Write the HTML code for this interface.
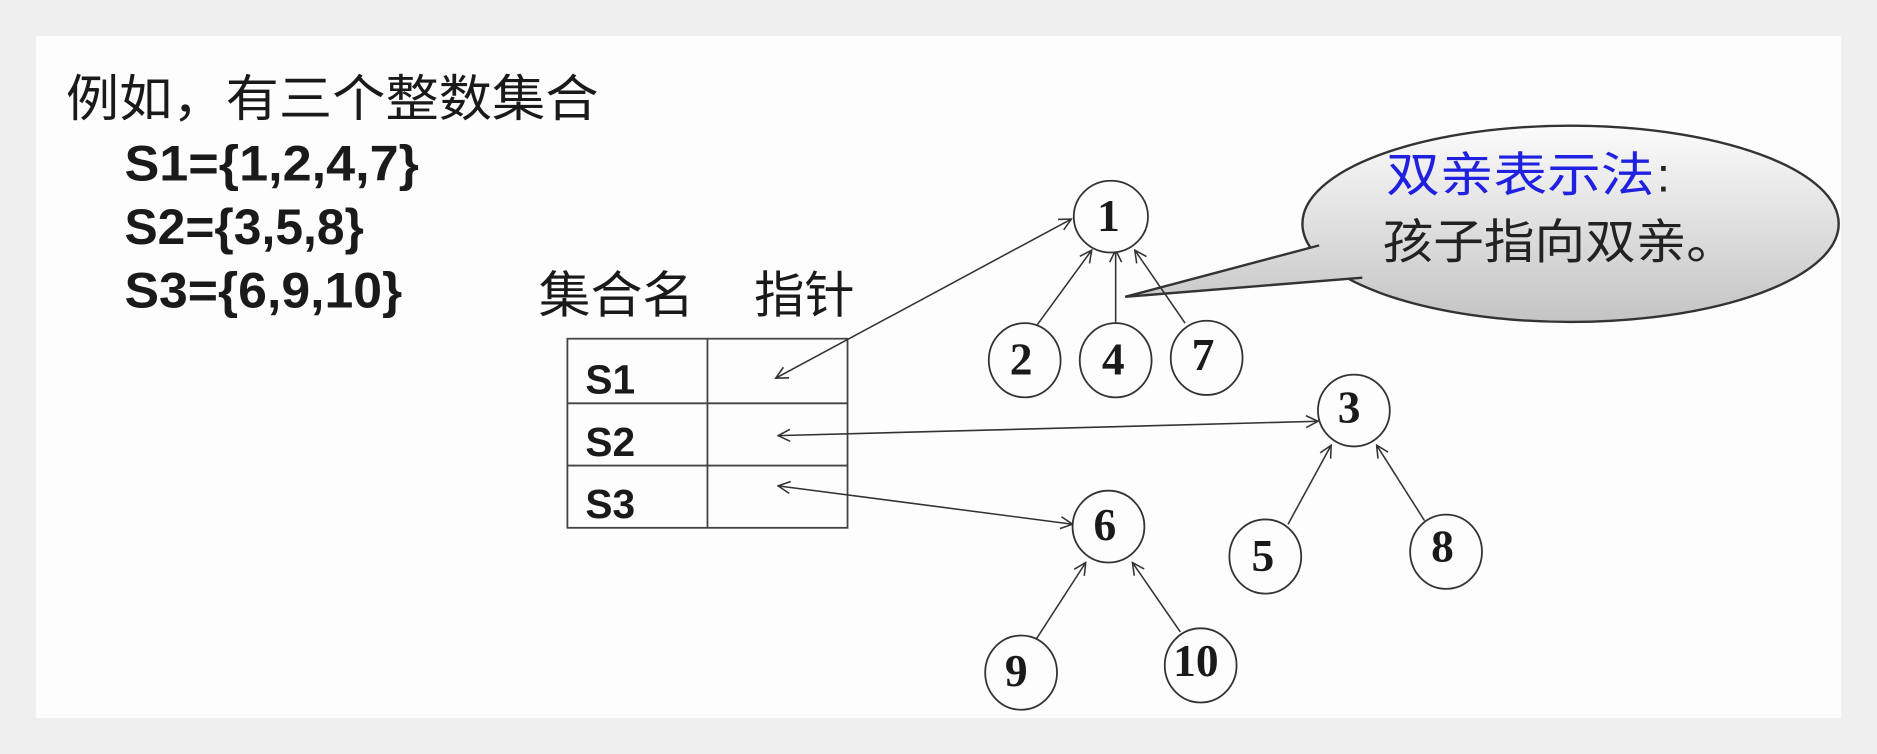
<!DOCTYPE html>
<html><head><meta charset="utf-8"><style>
html,body{margin:0;padding:0;background:#efefef;}
svg{display:block}
</style></head><body>
<svg width="1877" height="754" viewBox="0 0 1568 630" preserveAspectRatio="none" xmlns="http://www.w3.org/2000/svg">
<defs>
<linearGradient id="g" gradientUnits="userSpaceOnUse" x1="0" y1="105" x2="0" y2="269">
<stop offset="0" stop-color="#fbfbfb"/><stop offset="1" stop-color="#c4c4c4"/>
</linearGradient>
<marker id="a" viewBox="0 0 12 12" refX="11" refY="6" markerWidth="12" markerHeight="12" markerUnits="userSpaceOnUse" orient="auto-start-reverse">
<path d="M1,1 L11,6 L1,11" fill="none" stroke="#333" stroke-width="1.3"/>
</marker>
</defs>
<rect x="0" y="0" width="1568" height="630" fill="#efefef"/>
<rect x="30" y="30" width="1508" height="570" fill="#fdfdfd"/>
<g font-family="'Liberation Sans','Noto Sans CJK SC',sans-serif" fill="#1a1a1a">
<text x="55" y="97" font-size="42" textLength="445" lengthAdjust="spacingAndGlyphs">例如，有三个整数集合</text>
<g font-weight="bold" font-size="42">
<text x="104" y="151" textLength="246" lengthAdjust="spacingAndGlyphs">S1={1,2,4,7}</text>
<text x="104" y="204" textLength="200" lengthAdjust="spacingAndGlyphs">S2={3,5,8}</text>
<text x="104" y="257" textLength="232" lengthAdjust="spacingAndGlyphs">S3={6,9,10}</text>
</g>
<text x="450" y="261" font-size="42" textLength="130" lengthAdjust="spacingAndGlyphs">集合名</text>
<text x="630" y="261" font-size="42" textLength="84" lengthAdjust="spacingAndGlyphs">指针</text>
</g>
<g stroke="#444" stroke-width="1.5" fill="none">
<rect x="474" y="283" width="234" height="158"/>
<line x1="591" y1="283" x2="591" y2="441"/>
<line x1="474" y1="337" x2="708" y2="337"/>
<line x1="474" y1="389" x2="708" y2="389"/>
</g>
<g font-family="'Liberation Sans',sans-serif" font-weight="bold" font-size="34" fill="#1a1a1a">
<text x="489" y="329">S1</text>
<text x="489" y="381">S2</text>
<text x="489" y="433">S3</text>
</g>
<!-- callout -->
<ellipse cx="1312" cy="187" rx="224" ry="82" fill="url(#g)" stroke="#333" stroke-width="2"/>
<path d="M1102,205 L940,248 L1138,232 L1150,210 Z" fill="url(#g)" stroke="none"/>
<path d="M1102,205 L940,248 L1138,232" fill="none" stroke="#333" stroke-width="2"/>
<g font-family="'Liberation Sans','Noto Sans CJK SC',sans-serif" font-size="40">
<text x="1158" y="160" fill="#2020e0" textLength="224" lengthAdjust="spacingAndGlyphs">双亲表示法</text>
<text x="1384" y="160" fill="#222">:</text>
<text x="1155" y="216" fill="#222" textLength="296" lengthAdjust="spacingAndGlyphs">孩子指向双亲。</text>
</g>
<!-- arrows -->
<g stroke="#333" stroke-width="1.3" fill="none">
<line x1="648" y1="316" x2="895" y2="183" marker-start="url(#a)" marker-end="url(#a)"/>
<line x1="650" y1="364" x2="1101" y2="352" marker-start="url(#a)" marker-end="url(#a)"/>
<line x1="650" y1="406" x2="896" y2="438" marker-start="url(#a)" marker-end="url(#a)"/>
<line x1="866" y1="272" x2="912" y2="209" marker-end="url(#a)"/>
<line x1="932" y1="270" x2="932" y2="209" marker-end="url(#a)"/>
<line x1="990" y1="270" x2="948" y2="209" marker-end="url(#a)"/>
<line x1="1076" y1="438" x2="1112" y2="372" marker-end="url(#a)"/>
<line x1="1190" y1="435" x2="1150" y2="372" marker-end="url(#a)"/>
<line x1="865" y1="535" x2="907" y2="470" marker-end="url(#a)"/>
<line x1="986" y1="528" x2="946" y2="470" marker-end="url(#a)"/>
</g>
<g stroke="#333" stroke-width="1.5" fill="#fdfdfd">
<ellipse cx="928" cy="181" rx="31" ry="30"/>
<ellipse cx="856" cy="301" rx="30" ry="31"/>
<ellipse cx="932" cy="301" rx="30" ry="31"/>
<ellipse cx="1008" cy="299" rx="30" ry="31"/>
<ellipse cx="1131" cy="343" rx="30" ry="30"/>
<ellipse cx="1057" cy="465" rx="30" ry="31"/>
<ellipse cx="1208" cy="461" rx="30" ry="31"/>
<ellipse cx="926" cy="440" rx="30" ry="30"/>
<ellipse cx="853" cy="562" rx="30" ry="31"/>
<ellipse cx="1003" cy="556" rx="30" ry="31"/>
</g>
<g font-family="'Liberation Serif',serif" font-weight="bold" font-size="38" fill="#1a1a1a" text-anchor="middle">
<text x="926" y="193">1</text>
<text x="853" y="313">2</text>
<text x="930" y="313">4</text>
<text x="1005" y="309">7</text>
<text x="1127" y="353">3</text>
<text x="1055" y="477">5</text>
<text x="1205" y="469">8</text>
<text x="923" y="451">6</text>
<text x="849" y="573">9</text>
<text x="999" y="565">10</text>
</g>
</svg>
</body></html>
